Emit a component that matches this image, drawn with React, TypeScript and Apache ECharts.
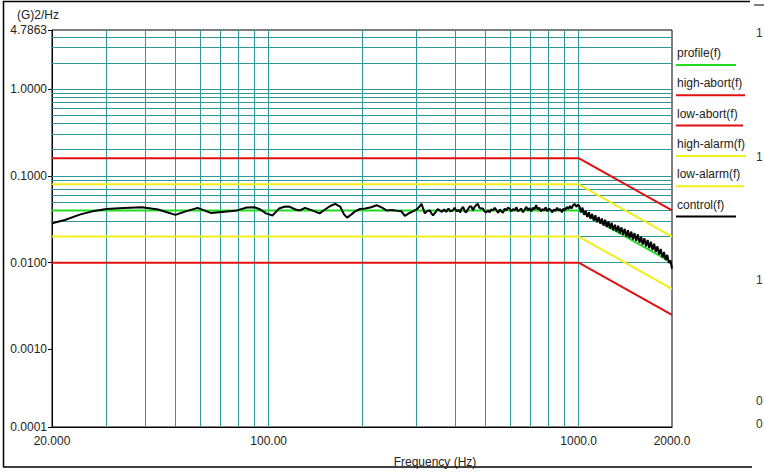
import React, { useEffect, useRef } from "react";
import * as echarts from "echarts";

// ---- data ----
const seriesNames = ["profile(f)", "high-abort(f)", "low-abort(f)", "high-alarm(f)", "low-alarm(f)", "control(f)"];
const breakHz = [20, 1000, 2000];
const profile = [0.04, 0.04, 0.01];
const highAbort = [0.16, 0.16, 0.04];
const lowAbort = [0.01, 0.01, 0.0025];
const highAlarm = [0.08, 0.08, 0.02];
const lowAlarm = [0.02, 0.02, 0.005];

const controlHz = [
  20, 22, 24.7, 27, 30, 34, 39, 44, 50, 54, 59, 65, 72, 79, 85, 90, 94, 98, 103, 108,
  113, 117, 122, 126, 131, 138, 146, 152, 158, 164, 170, 175, 179, 185, 190, 197, 205, 214, 223, 232,
  240, 250, 260, 268, 275, 283, 292, 300, 306, 311, 315, 319, 325, 331, 335, 339, 345, 351, 356, 362,
  368, 374, 380, 386, 393, 398, 404, 410, 415, 419, 424, 429, 434, 439, 445, 451, 456, 462, 467, 473,
  478, 484, 491, 497, 503, 510, 516, 522, 529, 536, 543, 550, 557, 563, 570, 577, 584, 591, 599, 606,
  614, 622, 630, 637, 645, 653, 661, 670, 678, 686, 694, 703, 711, 720, 729, 737, 746, 755, 764, 773,
  783, 792, 802, 812, 822, 832, 842, 852, 862, 872, 883, 893, 904, 915, 926, 937, 948, 960, 971, 983,
  995, 1005, 1017, 1029, 1041, 1053, 1066, 1079, 1092, 1105, 1118, 1132, 1146, 1160, 1174, 1188, 1203, 1217, 1232, 1247,
  1262, 1277, 1293, 1309, 1325, 1341, 1357, 1374, 1391, 1408, 1425, 1442, 1460, 1478, 1496, 1514, 1533, 1552, 1571, 1590,
  1609, 1629, 1649, 1669, 1689, 1710, 1731, 1752, 1773, 1795, 1817, 1839, 1862, 1885, 1908, 1931, 1955, 1978, 2000,
];
const controlPsd = [
  0.0285, 0.031, 0.036, 0.039, 0.0415, 0.0425, 0.0436, 0.041, 0.0355, 0.039, 0.0428, 0.0374, 0.0385, 0.04, 0.0432, 0.0435, 0.041, 0.037, 0.035, 0.042,
  0.0443, 0.044, 0.041, 0.04, 0.0428, 0.04, 0.037, 0.041, 0.045, 0.0476, 0.0443, 0.036, 0.033, 0.036, 0.039, 0.0415, 0.042, 0.0435, 0.0459, 0.043,
  0.04, 0.0405, 0.0395, 0.039, 0.0346, 0.037, 0.039, 0.041, 0.044, 0.0476, 0.042, 0.037, 0.0395, 0.04, 0.037, 0.035, 0.038, 0.0415, 0.04, 0.0385,
  0.041, 0.0385, 0.042, 0.039, 0.04, 0.043, 0.039, 0.0405, 0.038, 0.042, 0.044, 0.039, 0.038, 0.041, 0.0443, 0.0443, 0.04, 0.044, 0.046, 0.0476,
  0.043, 0.042, 0.042, 0.039, 0.038, 0.04, 0.038, 0.041, 0.04, 0.043, 0.04, 0.0375, 0.041, 0.039, 0.0375, 0.042, 0.04, 0.043, 0.042, 0.039,
  0.0415, 0.04, 0.0435, 0.039, 0.0405, 0.042, 0.038, 0.041, 0.044, 0.04, 0.0425, 0.039, 0.043, 0.041, 0.046, 0.041, 0.043, 0.039, 0.0415, 0.04,
  0.0435, 0.039, 0.042, 0.0405, 0.038, 0.041, 0.0395, 0.043, 0.04, 0.0415, 0.038, 0.042, 0.04, 0.044, 0.0415, 0.045, 0.042, 0.046, 0.0475, 0.044,
  0.0465, 0.045, 0.038, 0.043, 0.0355, 0.0395, 0.0335, 0.038, 0.032, 0.0365, 0.0305, 0.0352, 0.0292, 0.0335, 0.0282, 0.0322, 0.0268, 0.0312, 0.0258, 0.0298,
  0.0248, 0.0288, 0.0236, 0.0274, 0.0228, 0.0266, 0.0218, 0.0255, 0.021, 0.0245, 0.0199, 0.0236, 0.0192, 0.0228, 0.0185, 0.0219, 0.0178, 0.0212, 0.017, 0.0199,
  0.0162, 0.0191, 0.0154, 0.0183, 0.0147, 0.0174, 0.014, 0.0165, 0.0133, 0.0154, 0.0124, 0.0144, 0.0115, 0.0133, 0.0107, 0.0123, 0.0099, 0.0106, 0.0085,
];

// grid line positions (tick values)
const hzGrid = [30, 40, 50, 60, 70, 80, 90, 100, 200, 300, 400, 500, 600, 700, 800, 900, 1000];
const psdGrid = [
  0.0002, 0.0003, 0.0004, 0.0005, 0.0006, 0.0007, 0.0008, 0.0009,
  0.001, 0.002, 0.003, 0.004, 0.005, 0.006, 0.007, 0.008, 0.009,
  0.01, 0.02, 0.03, 0.04, 0.05, 0.06, 0.07, 0.08, 0.09,
  0.1, 0.2, 0.3, 0.4, 0.5, 0.6, 0.7, 0.8, 0.9,
  1, 2, 3, 4,
];
const xMin = 20;
const xMax = 2000;
const yMin = 0.000128;
const yMax = 4.7863;

// ---- styles ----
const FONT = '"Liberation Sans", Arial, sans-serif';
const TEXT = "#222";
const GRID = "#2f9898";
const GREEN = "#22dd22";
const RED = "#e01010";
const YELLOW = "#f2ee1a";
const BLACK = "#000";
const seriesColors = [GREEN, RED, RED, YELLOW, YELLOW, BLACK];
const legendLineLen = [60, 69, 67, 70, 68, 60];

const pairs = (xs: number[], ys: number[]) => xs.map((x, i) => [x, ys[i]]);

export default function App() {
  const ref = useRef<HTMLDivElement>(null);
  useEffect(() => {
    if (!ref.current) return;
    const chart = echarts.init(ref.current, undefined, { renderer: "svg" });

    const limitSeries = (name: string, vals: number[], color: string) => ({
      name,
      type: "line",
      data: pairs(breakHz, vals),
      showSymbol: false,
      symbol: "none",
      lineStyle: { color, width: 2 },
      z: 10,
      silent: true,
    });

    const legendGraphics: any[] = [];
    seriesNames.forEach((n, i) => {
      const ty = 53 + 30.3 * i;
      legendGraphics.push({
        type: "text",
        x: 677,
        y: ty,
        style: { text: n, fill: TEXT, fontSize: 12, fontFamily: FONT, verticalAlign: "middle", align: "left" },
      });
      legendGraphics.push({
        type: "line",
        shape: { x1: 676, y1: ty + 12, x2: 676 + legendLineLen[i], y2: ty + 12 },
        style: { stroke: seriesColors[i], lineWidth: 2 },
      });
    });

    const strayTexts = [
      { t: "1", y: 33 },
      { t: "1", y: 157 },
      { t: "1", y: 280 },
      { t: "0", y: 401 },
      { t: "0", y: 424 },
    ].map((s) => ({
      type: "text",
      x: 756,
      y: s.y,
      style: { text: s.t, fill: "#333", fontSize: 12, fontFamily: FONT, verticalAlign: "middle" },
    }));

    chart.setOption({
      animation: false,
      backgroundColor: "#fff",
      grid: { left: 52, right: 92, top: 30, bottom: 45, show: true, borderColor: "#000", borderWidth: 1, backgroundColor: "#fff" },
      xAxis: {
        type: "log",
        logBase: 10,
        min: xMin,
        max: xMax,
        axisLine: { show: true, lineStyle: { color: "#000", width: 1 } },
        axisTick: { show: false },
        splitLine: { show: false },
        minorTick: { show: false },
        axisLabel: {
          color: TEXT,
          fontSize: 12,
          fontFamily: FONT,
          margin: 8,
          formatter: (v: number) => Number(v).toPrecision(5),
        },
      },
      yAxis: {
        type: "log",
        logBase: 10,
        min: yMin,
        max: yMax,
        axisLine: { show: true, lineStyle: { color: "#000", width: 1 } },
        axisTick: { show: true, length: 4, inside: false, lineStyle: { color: "#000" } },
        splitLine: { show: false },
        axisLabel: {
          color: TEXT,
          fontSize: 12,
          fontFamily: FONT,
          margin: 5,
          formatter: (v: number) => Number(v).toFixed(4),
        },
      },
      series: [
        {
          name: "grid",
          type: "line",
          data: [[xMin, 1]],
          showSymbol: false,
          symbol: "none",
          lineStyle: { width: 0, opacity: 0 },
          silent: true,
          z: 1,
          markLine: {
            z: 1,
            silent: true,
            symbol: ["none", "none"],
            label: { show: false },
            lineStyle: { color: GRID, width: 1, type: "solid" },
            emphasis: { disabled: true },
            data: [
              ...psdGrid.map((v) => ({ yAxis: v })),
              ...hzGrid.map((v) => ({ xAxis: v })),
            ],
          },
        },
        limitSeries(seriesNames[1], highAbort, RED),
        limitSeries(seriesNames[2], lowAbort, RED),
        limitSeries(seriesNames[3], highAlarm, YELLOW),
        limitSeries(seriesNames[4], lowAlarm, YELLOW),
        limitSeries(seriesNames[0], profile, GREEN),
        {
          name: seriesNames[5],
          type: "line",
          data: pairs(controlHz, controlPsd),
          showSymbol: false,
          symbol: "none",
          lineStyle: { color: BLACK, width: 2 },
          z: 12,
          silent: true,
        },
      ],
      graphic: [
        { type: "line", shape: { x1: 3, y1: 1.5, x2: 750, y2: 1.5 }, style: { stroke: "#000", lineWidth: 1.5 } },
        { type: "line", shape: { x1: 3.5, y1: 1, x2: 3.5, y2: 467 }, style: { stroke: "#000", lineWidth: 1.5 } },
        { type: "line", shape: { x1: 3, y1: 467, x2: 752, y2: 467 }, style: { stroke: "#000", lineWidth: 1.5 } },
        { type: "line", shape: { x1: 754, y1: 5, x2: 764, y2: 5 }, style: { stroke: "#000", lineWidth: 1 } },
        {
          type: "text",
          x: 17,
          y: 15,
          style: { text: "(G)2/Hz", fill: TEXT, fontSize: 12, fontFamily: FONT, verticalAlign: "middle", align: "left" },
        },
        {
          type: "text",
          x: 435,
          y: 462,
          style: { text: "Frequency (Hz)", fill: TEXT, fontSize: 12, fontFamily: FONT, verticalAlign: "middle", align: "center" },
        },
        ...legendGraphics,
        ...strayTexts,
      ],
    });
    return () => chart.dispose();
  }, []);
  return <div ref={ref} style={{ position: "absolute", left: 0, top: 0, width: 764, height: 472 }} />;
}
